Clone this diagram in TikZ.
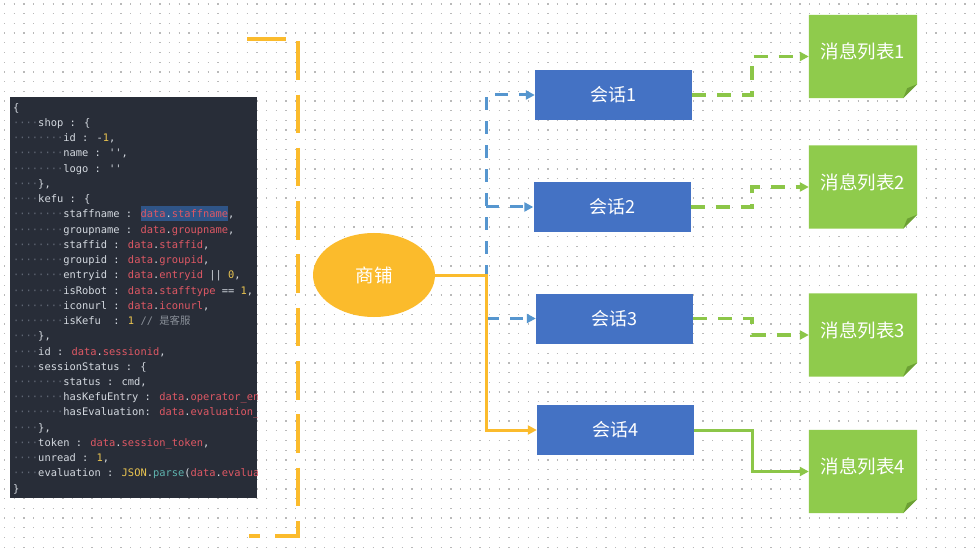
\documentclass[tikz,border=0pt]{standalone}
\usepackage{fontspec}
\usetikzlibrary{arrows.meta,shapes.geometric}
\newfontfamily\cjk{Noto Sans CJK SC}
\newfontfamily\codefont{DejaVu Sans Mono}[Ligatures=TeXOff]
\definecolor{dotc}{RGB}{185,185,185}
\definecolor{codebg}{RGB}{40,45,56}
\definecolor{codefg}{RGB}{212,217,224}
\definecolor{codedots}{RGB}{95,102,115}
\definecolor{codered}{RGB}{222,88,100}
\definecolor{codenum}{RGB}{234,196,80}
\definecolor{codeteal}{RGB}{95,180,175}
\definecolor{codegray}{RGB}{138,144,153}
\definecolor{codehl}{RGB}{47,84,135}
\definecolor{shopyellow}{RGB}{251,187,44}
\definecolor{boxblue}{RGB}{68,114,196}
\definecolor{lineblue}{RGB}{86,150,207}
\definecolor{notegreen}{RGB}{143,203,76}
\definecolor{linegreen}{RGB}{140,198,72}
\definecolor{folddark}{RGB}{108,160,52}
\newcommand\kD{\textcolor{codedots}{····}}
\newcommand\kDD{\kD\kD}
\newcommand\kRed[1]{\textcolor{codered}{#1}}
\newcommand\kNum[1]{\textcolor{codenum}{#1}}
\newcommand\kTeal[1]{\textcolor{codeteal}{#1}}
\begin{document}
\begin{tikzpicture}[x=1pt,y=-1pt,
  codetext/.style={inner sep=0pt, align=left, text=codefg,
    font=\fontsize{10.4}{15.24}\selectfont\codefont\setlength\fboxsep{0pt}},
  session/.style={fill=boxblue, minimum width=157pt, minimum height=50pt, inner sep=0pt,
    text=white, font=\cjk\fontsize{18}{18}\selectfont},
  notebox/.style={minimum width=108pt, minimum height=83pt, inner sep=0pt},
  notetext/.style={text=white, inner sep=0pt, font=\cjk\fontsize{18.5}{18.5}\selectfont},
  tip/.style={-{Triangle[length=9pt,width=9pt]}},
  bluedash/.style={tip, draw=lineblue, line width=3pt, dash pattern=on 13pt off 11pt},
  greendash/.style={tip, draw=linegreen, line width=3.2pt, dash pattern=on 14pt off 11pt},
  greenline/.style={tip, draw=linegreen, line width=3pt},
  yellowline/.style={tip, draw=shopyellow, line width=3pt},
  bracket/.style={draw=shopyellow, line width=4pt, dash pattern=on 38.5pt off 14.8pt}
]
\useasboundingbox (0,0) rectangle (980,556);
\fill[white] (0,0) rectangle (980,556);
\foreach \r in {0,...,57}
  \draw[dotc, line width=1.3pt, dash pattern=on 1.3pt off 8.4pt] (4,{4+\r*9.7}) -- (980,{4+\r*9.7});

% code panel
\begin{scope}
\clip (10,97) rectangle (257,498);
\fill[codebg] (10,97) rectangle (257,498);
\node[codetext, anchor=north west] (code) at (13,100.3) {\strut\{\\
\kD shop : \{\\
\kDD id : -\kNum{1},\\
\kDD name : '',\\
\kDD logo : ''\\
\kD\},\\
\kD kefu : \{\\
\kDD staffname : \colorbox{codehl}{\rule[-3.5pt]{0pt}{15.2pt}\kRed{data}.\kRed{staffname}},\\
\kDD groupname : \kRed{data}.\kRed{groupname},\\
\kDD staffid : \kRed{data}.\kRed{staffid},\\
\kDD groupid : \kRed{data}.\kRed{groupid},\\
\kDD entryid : \kRed{data}.\kRed{entryid} || \kNum{0},\\
\kDD isRobot : \kRed{data}.\kRed{stafftype} == \kNum{1},\\
\kDD iconurl : \kRed{data}.\kRed{iconurl},\\
\kDD isKefu~~: \kNum{1} \textcolor{codegray}{// {\cjk 是客服}}\\
\kD\},\\
\kD id : \kRed{data}.\kRed{sessionid},\\
\kD sessionStatus : \{\\
\kDD status : cmd,\\
\kDD hasKefuEntry : \kRed{data}.\kRed{operator\_en}\\
\kDD hasEvaluation: \kRed{data}.\kRed{evaluation\_}\\
\kD\},\\
\kD token : \kRed{data}.\kRed{session\_token},\\
\kD unread : \kNum{1},\\
\kD evaluation : \kNum{JSON}.\kTeal{parse}(\kRed{data}.\kRed{evalua}\\
\}};
\end{scope}

% yellow bracket
\draw[bracket] (247,39) -- (298,39) -- (298,536) -- (249,536);

% shop
\node[ellipse, fill=shopyellow, minimum width=122pt, minimum height=84pt, inner sep=0pt,
  text=white, font=\cjk\fontsize{18.5}{18.5}\selectfont] (shop) at (374,275) {商铺};

% sessions
\node[session] (s1) at (613.5,95) {会话1};
\node[session] (s2) at (612,207) {会话2};
\node[session] (s3) at (614.5,318.5) {会话3};
\node[session] (s4) at (615.5,430) {会话4};

% notes
\node[notebox] (m1) at (863,56.5) {};
\node[notebox] (m2) at (863,187) {};
\node[notebox] (m3) at (863,335) {};
\node[notebox] (m4) at (863,471.5) {};
\foreach \m in {m1,m2,m3,m4} {
  \fill[notegreen] (\m.north west) -- (\m.north east) -- ([yshift=14pt]\m.south east)
    -- ([xshift=-14pt]\m.south east) -- (\m.south west) -- cycle;
  \fill[folddark] ([yshift=14pt]\m.south east) -- ([xshift=-14pt]\m.south east)
    -- ([xshift=-10pt,yshift=10pt]\m.south east) -- cycle;
}
\node[notetext] (t1) at ([yshift=5pt]m1.center) {消息列表1};
\node[notetext] (t2) at ([yshift=5pt]m2.center) {消息列表2};
\node[notetext] (t3) at ([yshift=5pt]m3.center) {消息列表3};
\node[notetext] (t4) at ([yshift=5pt]m4.center) {消息列表4};

% connectors
\coordinate (bx) at (486,275);
\coordinate (gx) at (752,0);
\draw[bluedash] (shop.east) -- (bx) |- (s1.west);
\draw[bluedash] (bx |- s2.west) -- (s2.west);
\draw[bluedash] (bx |- s3.west) -- (s3.west);
\draw[yellowline] (shop.east) -- (bx) |- (s4.west);
\draw[greendash] (s1.east) -- (s1.east -| gx) |- (m1.west);
\draw[greendash] (s2.east) -- (s2.east -| gx) |- (m2.west);
\draw[greendash] (s3.east) -- (s3.east -| gx) |- (m3.west);
\draw[greenline] (s4.east) -- (s4.east -| gx) |- (m4.west);
\end{tikzpicture}
\end{document}
